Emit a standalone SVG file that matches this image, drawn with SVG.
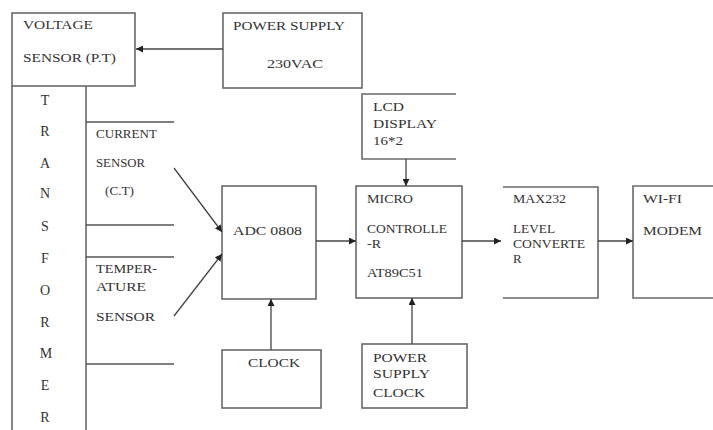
<svg xmlns="http://www.w3.org/2000/svg" width="713" height="430" viewBox="0 0 713 430">
<style>
.b{fill:none;stroke:#6a6a6a;stroke-width:1.6}
.l{fill:none;stroke:#555;stroke-width:1.4}
.c{fill:none;stroke:#444;stroke-width:1.3}
text{font-family:"Liberation Serif","Times New Roman",serif;fill:#333;font-size:13px}
.m{text-anchor:middle;font-size:14px}
</style>
<defs>
<marker id="ah" viewBox="0 0 10 10" refX="10" refY="5" markerWidth="7" markerHeight="7" markerUnits="userSpaceOnUse" orient="auto">
<path d="M0,0 L10,5 L0,10 z" fill="#222"/>
</marker>
</defs>
<rect width="713" height="430" fill="#fff"/>
<g id="voltage-sensor">
<rect class="b" x="12" y="13" width="123" height="73"/>
<text x="23" y="29" textLength="70" lengthAdjust="spacingAndGlyphs">VOLTAGE</text>
<text x="23" y="62" textLength="93" lengthAdjust="spacingAndGlyphs">SENSOR (P.T)</text>
</g>
<g id="power-supply">
<rect class="b" x="223" y="13" width="139" height="75"/>
<text x="233" y="30" textLength="112" lengthAdjust="spacingAndGlyphs">POWER SUPPLY</text>
<text x="267" y="68" textLength="56" lengthAdjust="spacingAndGlyphs">230VAC</text>
</g>
<g id="transformer">
<path class="b" d="M12,86 V430 M86,86 V430"/>
<text class="m" x="45" y="105">T</text>
<text class="m" x="45" y="136">R</text>
<text class="m" x="45" y="168">A</text>
<text class="m" x="45" y="198">N</text>
<text class="m" x="45" y="231">S</text>
<text class="m" x="45" y="263">F</text>
<text class="m" x="45" y="295">O</text>
<text class="m" x="45" y="327">R</text>
<text class="m" x="46" y="358">M</text>
<text class="m" x="45" y="390">E</text>
<text class="m" x="45" y="422">R</text>
</g>
<g id="current-sensor">
<path class="l" d="M86,122 H174 M86,225 H174"/>
<text x="96" y="138" font-size="12" textLength="61" lengthAdjust="spacingAndGlyphs">CURRENT</text>
<text x="96" y="167" font-size="12" textLength="49" lengthAdjust="spacingAndGlyphs">SENSOR</text>
<text x="105" y="195" font-size="12" textLength="29" lengthAdjust="spacingAndGlyphs">(C.T)</text>
</g>
<g id="temperature-sensor">
<path class="l" d="M86,257 H174 M86,364 H174"/>
<text x="96" y="273" font-size="12" textLength="61" lengthAdjust="spacingAndGlyphs">TEMPER-</text>
<text x="96" y="291" font-size="12" textLength="50" lengthAdjust="spacingAndGlyphs">ATURE</text>
<text x="96" y="321" font-size="12" textLength="59" lengthAdjust="spacingAndGlyphs">SENSOR</text>
</g>
<g id="adc">
<rect class="b" x="222" y="186" width="94" height="113"/>
<text x="233" y="235" textLength="69" lengthAdjust="spacingAndGlyphs">ADC 0808</text>
</g>
<g id="microcontroller">
<rect class="b" x="356" y="186" width="106" height="112"/>
<text x="367" y="203" font-size="12" textLength="46" lengthAdjust="spacingAndGlyphs">MICRO</text>
<text x="367" y="233" font-size="12" textLength="80" lengthAdjust="spacingAndGlyphs">CONTROLLE</text>
<text x="367" y="248" font-size="12" textLength="14" lengthAdjust="spacingAndGlyphs">-R</text>
<text x="367" y="277" font-size="12" textLength="56" lengthAdjust="spacingAndGlyphs">AT89C51</text>
</g>
<g id="lcd">
<path class="b" d="M456,94 H362 V159 H456"/>
<text x="373" y="111" textLength="31" lengthAdjust="spacingAndGlyphs">LCD</text>
<text x="373" y="128" textLength="64" lengthAdjust="spacingAndGlyphs">DISPLAY</text>
<text x="373" y="145" textLength="30" lengthAdjust="spacingAndGlyphs">16*2</text>
</g>
<g id="max232">
<path class="b" d="M503,187 H598 V298 H503"/>
<text x="513" y="203" font-size="12" textLength="53" lengthAdjust="spacingAndGlyphs">MAX232</text>
<text x="513" y="233" font-size="12" textLength="42" lengthAdjust="spacingAndGlyphs">LEVEL</text>
<text x="513" y="248" font-size="12" textLength="72" lengthAdjust="spacingAndGlyphs">CONVERTE</text>
<text x="513" y="263" font-size="12">R</text>
</g>
<g id="wifi-modem">
<path class="b" d="M713,186 H633 V298 H713"/>
<text x="643" y="203" font-size="12" textLength="39" lengthAdjust="spacingAndGlyphs">WI-FI</text>
<text x="643" y="235" font-size="13" textLength="59" lengthAdjust="spacingAndGlyphs">MODEM</text>
</g>
<g id="clock">
<rect class="b" x="222" y="350" width="99" height="58"/>
<text x="248" y="367" textLength="52" lengthAdjust="spacingAndGlyphs">CLOCK</text>
</g>
<g id="power-supply-clock">
<rect class="b" x="362" y="344" width="105" height="64"/>
<text x="373" y="362" textLength="54" lengthAdjust="spacingAndGlyphs">POWER</text>
<text x="373" y="378" textLength="57" lengthAdjust="spacingAndGlyphs">SUPPLY</text>
<text x="373" y="397" textLength="52" lengthAdjust="spacingAndGlyphs">CLOCK</text>
</g>
<g id="connectors">
<line class="c" x1="223" y1="49" x2="136" y2="49" marker-end="url(#ah)"/>
<line class="c" x1="174" y1="168" x2="222" y2="232" marker-end="url(#ah)"/>
<line class="c" x1="174" y1="316" x2="222" y2="254" marker-end="url(#ah)"/>
<line class="c" x1="316" y1="241" x2="356" y2="241" marker-end="url(#ah)"/>
<line class="c" x1="406" y1="159" x2="406" y2="186" marker-end="url(#ah)"/>
<line class="c" x1="462" y1="241" x2="501" y2="241" marker-end="url(#ah)"/>
<line class="c" x1="598" y1="241" x2="633" y2="241" marker-end="url(#ah)"/>
<line class="c" x1="271" y1="350" x2="271" y2="299" marker-end="url(#ah)"/>
<line class="c" x1="412" y1="344" x2="412" y2="298" marker-end="url(#ah)"/>
</g>
</svg>
